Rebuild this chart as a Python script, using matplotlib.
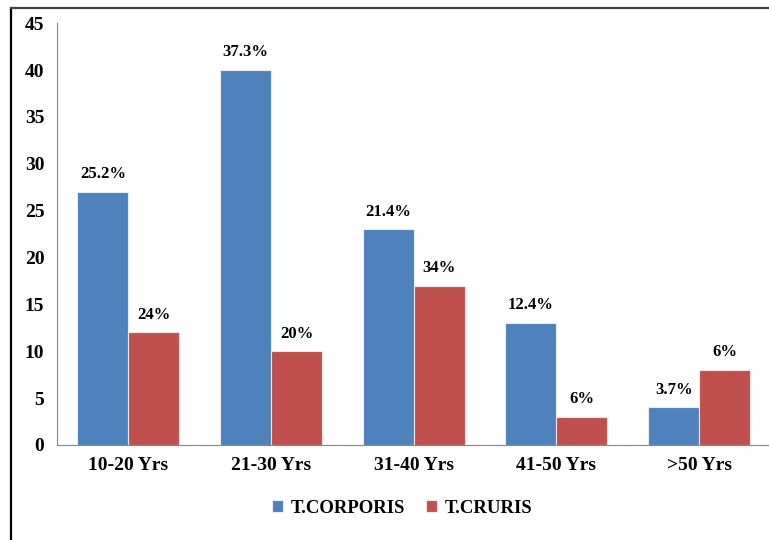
import numpy as np
import matplotlib.pyplot as plt
from matplotlib.lines import Line2D

categories = ['10-20 Yrs', '21-30 Yrs', '31-40 Yrs', '41-50 Yrs', '>50 Yrs']
corporis = [27, 40, 23, 13, 4]
cruris = [12, 10, 17, 3, 8]
corporis_labels = ['25.2%', '37.3%', '21.4%', '12.4%', '3.7%']
cruris_labels = ['24%', '20%', '34%', '6%', '6%']

plt.rcParams['font.family'] = ['Liberation Serif', 'DejaVu Serif']
plt.rcParams['font.weight'] = 'bold'

blue = '#4F81BD'
red = '#C0504D'

fig = plt.figure(figsize=(7.69, 5.4), dpi=100)
ax = fig.add_axes([0.074, 0.176, 0.928, 0.781])

x = np.arange(len(categories))
w = 0.357
b1 = ax.bar(x - w / 2, corporis, w, color=blue, edgecolor='#e8eef6', linewidth=0.8, label='T.CORPORIS')
b2 = ax.bar(x + w / 2, cruris, w, color=red, edgecolor='#f3e6e6', linewidth=0.8, label='T.CRURIS')

for rect, lab in zip(b1, corporis_labels):
    ax.annotate(lab, (rect.get_x() + rect.get_width() / 2, rect.get_height()),
                xytext=(0, 7), textcoords='offset points', ha='center', va='bottom',
                fontsize=12, fontweight='bold')
for rect, lab in zip(b2, cruris_labels):
    ax.annotate(lab, (rect.get_x() + rect.get_width() / 2, rect.get_height()),
                xytext=(0, 7), textcoords='offset points', ha='center', va='bottom',
                fontsize=12, fontweight='bold')

ax.set_xlim(-0.5, 4.5)
ax.set_ylim(0, 45)
ax.set_yticks(range(0, 46, 5))
ax.set_xticks(x)
ax.set_xticklabels(categories, fontsize=14, fontweight='bold')
ax.tick_params(axis='y', labelsize=14, length=0, pad=9)
ax.tick_params(axis='x', length=0, pad=9)
for s in ['top', 'right']:
    ax.spines[s].set_visible(False)
ax.spines['left'].set_color('#888888')
ax.spines['bottom'].set_color('#888888')
ax.spines['left'].set_linewidth(0.8)
ax.spines['bottom'].set_linewidth(0.8)

fig.legend(handles=[b1, b2], loc='center', bbox_to_anchor=(0.523, 0.059), ncol=2,
           frameon=False, fontsize=13.5, handlelength=0.6, handleheight=0.6,
           columnspacing=1.1, handletextpad=0.4)

# outer frame (left and top edges visible)
fig.add_artist(Line2D([0.0143, 0.0143], [0.0, 0.985], transform=fig.transFigure, color='black', lw=1.6))
fig.add_artist(Line2D([0.0143, 1.0], [0.985, 0.985], transform=fig.transFigure, color='#444444', lw=1.6))

fig.savefig('out.png', dpi=100)
